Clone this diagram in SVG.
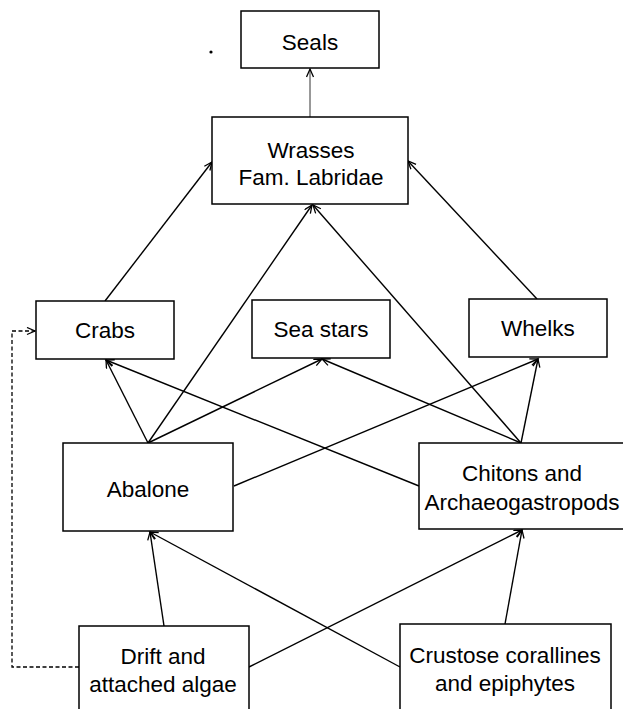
<svg xmlns="http://www.w3.org/2000/svg" width="623" height="709" viewBox="0 0 623 709">
  <style>
    .box { fill: #ffffff; stroke: #000000; stroke-width: 1.5; }
    .lbl { font-family: "Liberation Sans", Arial, sans-serif; font-size: 22.5px; fill: #000000; text-anchor: middle; }
    .edge { fill: none; stroke: #000000; stroke-width: 1.4; marker-end: url(#arrow); }
    .thin { stroke-width: 1; stroke: #333333; }
    .dash { stroke-dasharray: 4 2.5; stroke-width: 1.3; }
  </style>
  <defs>
    <marker id="arrow" markerUnits="userSpaceOnUse" markerWidth="12" markerHeight="10" refX="9" refY="4" orient="auto">
      <path d="M1,0.5 L9,4 L1,7.5" fill="none" stroke="#000000" stroke-width="1.3"/>
    </marker>
  </defs>

  <rect width="623" height="709" fill="#ffffff"/>

  <!-- connectors -->
  <g id="connectors">
    <line class="edge thin" x1="310" y1="117" x2="310" y2="69"/>
    <line class="edge" x1="105" y1="301" x2="212" y2="162"/>
    <line class="edge" x1="537" y1="299" x2="408" y2="161"/>
    <line class="edge" x1="148" y1="443" x2="106" y2="360"/>
    <line class="edge" x1="148" y1="443" x2="312" y2="205"/>
    <line class="edge" x1="148" y1="443" x2="322" y2="359"/>
    <line class="edge" x1="521" y1="443" x2="322" y2="359"/>
    <line class="edge" x1="419" y1="486" x2="106" y2="360"/>
    <line class="edge" x1="521" y1="443" x2="313" y2="205"/>
    <line class="edge" x1="521" y1="443" x2="538" y2="359"/>
    <line class="edge" x1="234" y1="486" x2="538" y2="359"/>
    <line class="edge" x1="164" y1="626" x2="150" y2="532"/>
    <line class="edge" x1="400" y1="667" x2="150" y2="532"/>
    <line class="edge" x1="249" y1="667" x2="522" y2="530"/>
    <line class="edge" x1="505" y1="624" x2="522" y2="530"/>
    <polyline class="edge dash" points="79,667 12,667 12,331 35,331"/>
  </g>

  <!-- stray dot -->
  <circle cx="211" cy="52" r="1.6" fill="#000000"/>

  <g id="seals">
    <rect class="box" x="241" y="11" width="138" height="57"/>
    <text class="lbl" x="310" y="50">Seals</text>
  </g>
  <g id="wrasses">
    <rect class="box" x="212" y="117" width="196" height="87"/>
    <text class="lbl" x="311" y="158">Wrasses</text>
    <text class="lbl" x="311" y="185">Fam. Labridae</text>
  </g>
  <g id="crabs">
    <rect class="box" x="36" y="301" width="138" height="58"/>
    <text class="lbl" x="105" y="338">Crabs</text>
  </g>
  <g id="sea-stars">
    <rect class="box" x="252" y="300" width="138" height="58"/>
    <text class="lbl" x="321" y="337">Sea stars</text>
  </g>
  <g id="whelks">
    <rect class="box" x="469" y="299" width="138" height="58"/>
    <text class="lbl" x="538" y="336">Whelks</text>
  </g>
  <g id="abalone">
    <rect class="box" x="63" y="443" width="170" height="88"/>
    <text class="lbl" x="148" y="497">Abalone</text>
  </g>
  <g id="chitons">
    <rect class="box" x="419" y="443" width="210" height="86"/>
    <text class="lbl" x="522" y="481">Chitons and</text>
    <text class="lbl" x="522" y="510">Archaeogastropods</text>
  </g>
  <g id="drift-algae">
    <rect class="box" x="79" y="626" width="170" height="90"/>
    <text class="lbl" x="163" y="664">Drift and</text>
    <text class="lbl" x="163" y="692">attached algae</text>
  </g>
  <g id="crustose">
    <rect class="box" x="400" y="624" width="211" height="92"/>
    <text class="lbl" x="505" y="663">Crustose corallines</text>
    <text class="lbl" x="505" y="691">and epiphytes</text>
  </g>
</svg>
